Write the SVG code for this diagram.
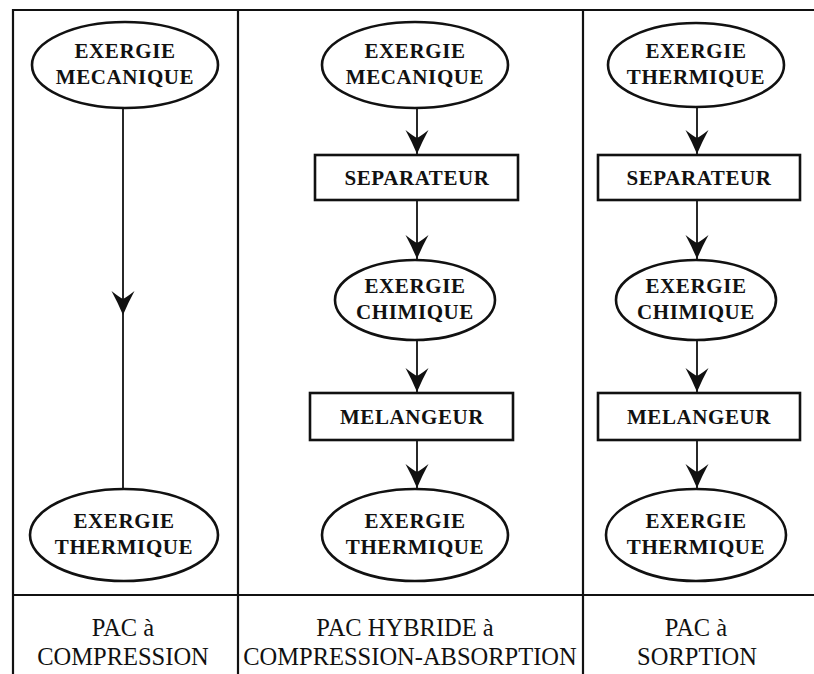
<svg xmlns="http://www.w3.org/2000/svg" width="814" height="674" viewBox="0 0 814 674">
<style>
.frame{stroke:#111;stroke-width:2.2;fill:none}
.node{fill:#fff;stroke:#111;stroke-width:2.6}
.t{font-family:"Liberation Serif","Times New Roman",serif;font-weight:bold;font-size:21px;letter-spacing:0.6px;fill:#111;text-anchor:middle}
.lab{font-family:"Liberation Serif","Times New Roman",serif;font-size:24.5px;fill:#111;text-anchor:middle}
.c{stroke:#111;stroke-width:1.8;fill:none}
</style>
<defs>
<marker id="ah" markerUnits="userSpaceOnUse" viewBox="-26 -13 28 26" refX="0" refY="0" markerWidth="28" markerHeight="26" orient="auto">
<path d="M0,0 Q-12,-5 -24,-11.5 Q-18,-4 -16,0 Q-18,4 -24,11.5 Q-12,5 0,0 Z" fill="#111"/>
</marker>
</defs>
<g id="frame">
<path class="frame" d="M13,674 V10 H814 M238,10 V674 M583,10 V674 M13,595 H814"/>
</g>
<g id="connectors">
<path class="c" d="M123,108 L123,315 L123,490" marker-mid="url(#ah)"/>
<line class="c" x1="417" y1="107" x2="417" y2="154" marker-end="url(#ah)"/>
<line class="c" x1="417" y1="200" x2="417" y2="259" marker-end="url(#ah)"/>
<line class="c" x1="417" y1="340" x2="417" y2="392" marker-end="url(#ah)"/>
<line class="c" x1="417" y1="440" x2="417" y2="488" marker-end="url(#ah)"/>
<line class="c" x1="697" y1="107" x2="697" y2="154" marker-end="url(#ah)"/>
<line class="c" x1="697" y1="200" x2="697" y2="259" marker-end="url(#ah)"/>
<line class="c" x1="697" y1="340" x2="697" y2="392" marker-end="url(#ah)"/>
<line class="c" x1="697" y1="440" x2="697" y2="488" marker-end="url(#ah)"/>
</g>
<g id="c1-meca">
<ellipse class="node" cx="125" cy="65" rx="93" ry="43"/>
<text class="t" x="125" y="58">EXERGIE</text>
<text class="t" x="125" y="84">MECANIQUE</text>
</g>
<g id="c1-therm">
<ellipse class="node" cx="124" cy="535" rx="94" ry="46"/>
<text class="t" x="124" y="528">EXERGIE</text>
<text class="t" x="124" y="554">THERMIQUE</text>
</g>
<g id="c2-meca">
<ellipse class="node" cx="415" cy="65" rx="93" ry="43"/>
<text class="t" x="415" y="58">EXERGIE</text>
<text class="t" x="415" y="84">MECANIQUE</text>
</g>
<g id="c2-sep">
<rect class="node" x="315" y="155" width="203" height="45"/>
<text class="t" x="417" y="185">SEPARATEUR</text>
</g>
<g id="c2-chim">
<ellipse class="node" cx="415" cy="300" rx="80" ry="40"/>
<text class="t" x="415" y="293">EXERGIE</text>
<text class="t" x="415" y="319">CHIMIQUE</text>
</g>
<g id="c2-mel">
<rect class="node" x="310" y="393" width="203" height="47"/>
<text class="t" x="412" y="424">MELANGEUR</text>
</g>
<g id="c2-therm">
<ellipse class="node" cx="415" cy="535" rx="93" ry="46"/>
<text class="t" x="415" y="528">EXERGIE</text>
<text class="t" x="415" y="554">THERMIQUE</text>
</g>
<g id="c3-therm-top">
<ellipse class="node" cx="696" cy="65" rx="88" ry="42"/>
<text class="t" x="696" y="58">EXERGIE</text>
<text class="t" x="696" y="84">THERMIQUE</text>
</g>
<g id="c3-sep">
<rect class="node" x="598" y="155" width="202" height="45"/>
<text class="t" x="699" y="185">SEPARATEUR</text>
</g>
<g id="c3-chim">
<ellipse class="node" cx="696" cy="300" rx="80" ry="40"/>
<text class="t" x="696" y="293">EXERGIE</text>
<text class="t" x="696" y="319">CHIMIQUE</text>
</g>
<g id="c3-mel">
<rect class="node" x="598" y="393" width="202" height="47"/>
<text class="t" x="699" y="424">MELANGEUR</text>
</g>
<g id="c3-therm">
<ellipse class="node" cx="696" cy="535" rx="90" ry="46"/>
<text class="t" x="696" y="528">EXERGIE</text>
<text class="t" x="696" y="554">THERMIQUE</text>
</g>
<g id="labels">
<text class="lab" x="123" y="636">PAC à</text>
<text class="lab" x="123" y="665">COMPRESSION</text>
<text class="lab" x="405" y="636">PAC HYBRIDE à</text>
<text class="lab" x="410" y="665">COMPRESSION-ABSORPTION</text>
<text class="lab" x="696" y="636">PAC à</text>
<text class="lab" x="697" y="665">SORPTION</text>
</g>
</svg>
